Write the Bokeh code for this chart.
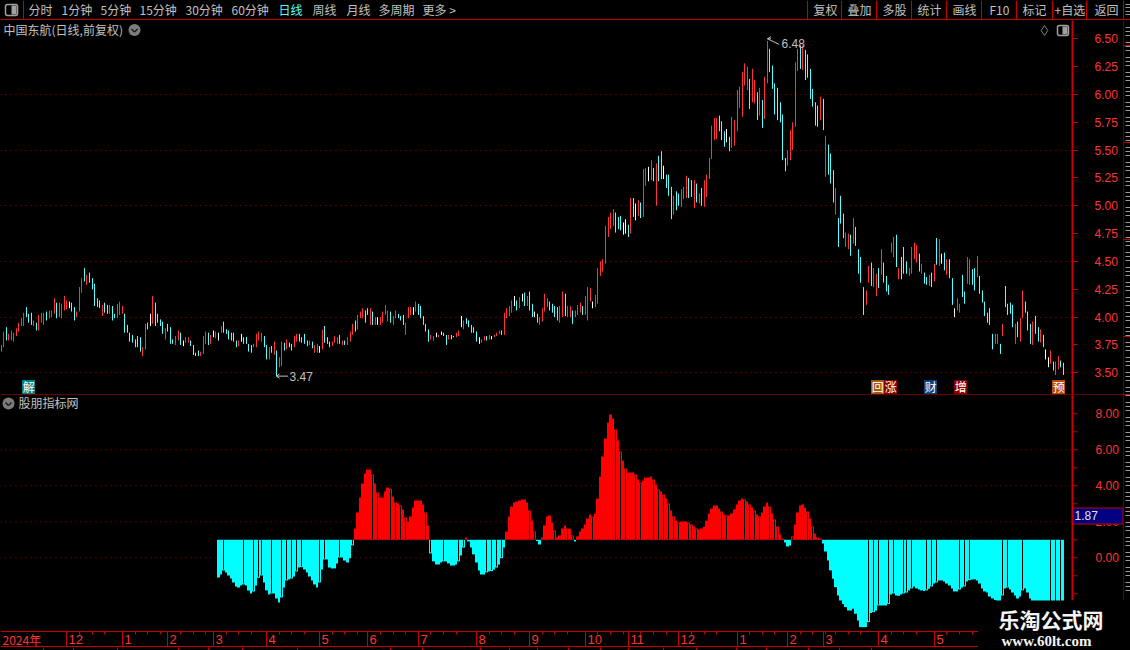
from math import floor
from bokeh.embed import file_html
from bokeh.resources import INLINE
from bokeh.plotting import figure
from bokeh.layouts import column, row
from bokeh.models import ColumnDataSource, FixedTicker, NumeralTickFormatter, Range1d
from bokeh.core.properties import value

# ---- data ----
highs = [3.75,3.87,3.91,3.85,3.88,3.86,3.90,3.95,3.99,4.04,
 4.09,4.03,4.04,3.97,3.95,4.02,4.04,4.04,4.05,4.06,
 4.06,4.17,4.13,4.13,4.12,4.19,4.15,4.14,4.13,4.09,
 4.05,4.27,4.35,4.44,4.38,4.40,4.35,4.30,4.17,4.15,
 4.11,4.13,4.11,4.11,4.10,4.03,4.12,4.14,4.10,4.03,
 3.93,3.86,3.84,3.80,3.83,3.82,3.73,3.94,3.95,4.03,
 4.19,4.13,4.03,3.98,3.96,3.90,3.94,3.91,3.80,3.83,
 3.88,3.86,3.79,3.82,3.82,3.79,3.75,3.68,3.70,3.69,
 3.83,3.87,3.86,3.84,3.88,3.87,3.86,3.92,3.96,3.89,
 3.88,3.86,3.86,3.79,3.79,3.85,3.82,3.82,3.76,3.75,
 3.76,3.85,3.87,3.86,3.83,3.75,3.73,3.74,3.78,3.70,
 3.64,3.78,3.77,3.80,3.77,3.76,3.83,3.85,3.85,3.82,
 3.85,3.79,3.79,3.78,3.75,3.76,3.74,
 3.89,3.92,3.82,3.78,3.78,3.83,3.82,3.84,3.79,3.79,
 3.82,3.87,3.94,3.97,4.02,4.05,4.08,4.06,4.08,4.08,
 4.05,4.00,4.00,4.00,4.05,4.11,4.06,4.05,4.01,4.06,
 4.03,4.01,4.02,3.95,4.09,4.09,4.09,4.14,4.12,4.10,
 4.01,3.94,3.89,3.84,3.83,3.86,3.84,3.87,3.86,3.84,
 3.84,3.84,3.83,3.86,3.88,4.01,3.97,3.99,3.97,3.93,
 3.91,3.87,3.82,3.80,3.83,3.83,3.84,3.83,3.84,3.86,
 3.88,3.88,4.04,4.08,4.10,4.15,4.19,4.15,4.18,4.21,
 4.22,4.19,4.23,4.12,4.05,4.03,4.00,4.08,4.21,4.17,
 4.14,4.12,4.10,4.09,4.10,4.23,4.21,4.10,4.10,4.06,
 4.06,4.11,4.13,4.10,4.19,4.27,4.26,4.14,4.20,4.44,
 4.50,4.52,4.82,4.90,4.94,4.97,4.94,4.90,4.91,4.85,
 4.88,4.83,5.07,5.07,5.02,5.05,
 5.03,5.33,5.34,5.35,5.41,5.34,5.38,5.45,5.49,5.36,
 5.28,5.28,5.17,5.09,5.13,5.11,5.15,5.17,5.27,5.25,
 5.23,5.23,5.20,5.11,5.16,5.23,5.28,5.43,5.72,5.79,
 5.79,5.81,5.76,5.67,5.69,5.62,5.80,5.77,6.04,6.07,
 6.20,6.28,6.25,6.14,6.23,6.13,6.02,6.06,5.95,6.16,
 6.48,6.41,6.26,6.10,6.06,5.93,5.82,5.43,5.50,5.68,
 5.75,6.29,6.41,6.44,6.44,6.40,6.36,6.23,6.05,5.93,
 5.90,5.98,5.96,5.63,5.55,5.47,5.32,5.16,4.89,5.09,
 4.93,4.76,4.75,4.74,4.89,4.81,4.61,4.54,4.27,4.24,
 4.46,4.49,4.44,4.39,4.44,
 4.61,4.49,4.37,4.29,4.67,4.72,4.74,4.44,4.54,4.63,
 4.50,4.44,4.63,4.67,4.65,4.57,4.48,4.40,4.36,4.38,
 4.40,4.48,4.71,4.70,4.57,4.58,4.52,4.52,4.35,4.08,
 4.17,4.12,4.38,4.23,4.54,4.52,4.43,4.44,4.55,4.37,
 4.24,4.14,4.04,4.08,3.85,3.85,3.85,3.76,3.94,4.28,
 4.12,4.13,4.11,3.94,3.96,3.99,4.24,4.14,4.05,3.94,
 3.96,4.01,3.91,3.89,3.84,3.71,3.64,3.70,3.60,3.60,
 3.65,3.61,3.59]
lows = [3.69,3.73,3.79,3.79,3.79,3.78,3.83,3.87,3.92,3.92,
 4.00,3.95,3.93,3.92,3.88,3.88,3.95,3.93,3.97,3.99,
 4.00,4.03,3.99,4.00,3.99,4.06,4.07,4.08,4.05,3.97,
 4.00,4.05,4.22,4.32,4.29,4.31,4.25,4.10,4.09,4.08,
 4.01,4.04,4.03,4.03,3.97,3.99,3.99,4.02,4.03,3.86,
 3.86,3.78,3.77,3.73,3.73,3.69,3.65,3.71,3.89,3.92,
 3.94,3.92,3.95,3.92,3.85,3.80,3.87,3.76,3.76,3.75,
 3.79,3.75,3.74,3.77,3.77,3.74,3.66,3.65,3.65,3.65,
 3.67,3.76,3.75,3.76,3.82,3.81,3.79,3.86,3.86,3.85,
 3.80,3.79,3.78,3.73,3.74,3.78,3.76,3.76,3.69,3.68,
 3.73,3.73,3.79,3.78,3.73,3.62,3.62,3.68,3.66,3.47,
 3.55,3.56,3.70,3.71,3.73,3.70,3.73,3.78,3.78,3.77,
 3.76,3.74,3.75,3.72,3.68,3.68,3.68,
 3.71,3.77,3.76,3.73,3.74,3.77,3.76,3.76,3.75,3.75,
 3.75,3.78,3.84,3.87,3.89,3.99,3.99,3.95,4.02,3.93,
 3.93,3.93,3.93,3.93,3.95,4.02,3.96,3.95,3.93,3.99,
 3.99,3.97,3.93,3.84,3.99,4.02,4.02,4.05,4.02,3.99,
 3.93,3.87,3.78,3.80,3.79,3.82,3.82,3.84,3.83,3.75,
 3.80,3.80,3.82,3.82,3.83,3.91,3.89,3.94,3.91,3.86,
 3.86,3.78,3.76,3.77,3.79,3.79,3.80,3.80,3.82,3.83,
 3.85,3.84,3.84,3.99,4.01,4.04,4.10,4.06,4.08,4.14,
 4.10,4.10,4.06,4.00,4.00,3.95,3.93,3.96,4.05,4.09,
 4.06,4.04,4.00,3.97,3.95,4.00,4.01,4.00,4.00,3.94,
 4.00,4.02,4.04,4.02,4.02,3.97,4.14,4.08,4.09,4.12,
 4.37,4.41,4.48,4.72,4.79,4.82,4.76,4.79,4.78,4.74,
 4.75,4.72,4.75,4.90,4.87,4.91,
 4.89,4.90,5.18,5.22,5.23,5.22,5.00,5.22,5.24,5.24,
 5.16,5.09,4.88,4.92,4.96,5.00,4.99,5.06,5.07,5.07,
 5.08,4.98,5.03,5.02,5.00,4.99,5.08,5.24,5.42,5.59,
 5.60,5.67,5.59,5.53,5.57,5.49,5.52,5.54,5.67,5.88,
 5.80,6.08,6.04,5.87,5.93,5.92,5.77,5.81,5.70,5.78,
 6.10,6.20,6.05,5.82,5.77,5.75,5.41,5.31,5.36,5.41,
 5.50,5.71,6.21,6.23,6.22,6.13,6.15,5.96,5.89,5.72,
 5.71,5.77,5.68,5.26,5.28,5.20,5.03,4.92,4.63,4.84,
 4.71,4.63,4.61,4.55,4.66,4.64,4.39,4.31,4.02,4.11,
 4.31,4.28,4.27,4.19,4.26,
 4.38,4.31,4.23,4.20,4.58,4.54,4.45,4.34,4.34,4.39,
 4.39,4.37,4.39,4.52,4.49,4.41,4.39,4.30,4.29,4.28,
 4.27,4.32,4.47,4.46,4.48,4.42,4.38,4.35,4.11,4.00,
 4.06,4.04,4.18,4.12,4.30,4.29,4.29,4.24,4.36,4.21,
 4.13,4.01,3.95,3.93,3.71,3.76,3.76,3.67,3.83,4.09,
 4.02,4.03,3.91,3.76,3.82,3.78,3.99,4.04,3.88,3.76,
 3.75,3.85,3.78,3.77,3.73,3.62,3.55,3.58,3.52,3.48,
 3.53,3.55,3.48]
kinds = ("rrcrrrrrrr" "cccrcrrrcr" "rrcrrrrwcc" "rrrcrccccc" "rccrccrrrc" "ccccccrrcw"
 "rccccrcccr" "rcwrrccccr" "rrcrwrwrcc" "ccccrwcccc" "rrrrccrcrc" "rrcrccrrcc" "ccrcrrw"
 "rcccrrrcrc" "rrrcrrrccr" "crwrrrrcrr" "cccrrrwrcc" "cccrrwrwcc" "rcwrrwrccc" "ccwrrcrwrr"
 "rcrrrrwcrw" "crccwcrrrr" "ccccrrcrrc" "rrrcrrrwrr" "rrrrrrcccw" "wcrcwr"
 "crrwrcrccw" "cccrccrrrc" "crcrcrrrrr" "rcccwcrrrr" "rrrcrrcrcr" "rcccccccrr" "rrrcrccccc"
 "crcrcccrcc" "crrcrccccr" "rcrrc"
 "rcccrrcrcc" "crrrrcrccr" "crcrwcrccw" "rrccrrccrc" "cccccrrcrc" "cccrcrrccc" "rccrcwwrcr" "rcc")

osc_values = [-1.09,-0.93,-0.70,-0.81,-0.98,-1.15,-1.37,-1.59,-1.65,-1.54,
 -1.48,-1.54,-1.81,-1.98,-1.87,-1.54,-1.11,-0.98,-1.37,-1.81,
 -2.04,-1.98,-1.98,-2.26,-2.48,-2.20,-1.65,-1.26,-1.20,-1.15,
 -1.04,-0.76,-0.54,-0.52,-0.65,-0.81,-1.04,-1.26,-1.48,-1.65,
 -1.37,-0.65,-0.09,-0.09,-0.54,-0.59,-0.59,-0.31,0.02,0.02,
 -0.15,-0.26,-0.02,0.69,
 1.63,2.52,3.35,4.13,4.69,4.91,4.91,4.63,4.13,3.63,
 3.35,3.35,3.69,3.91,3.83,3.41,3.07,3.02,2.91,2.69,
 2.24,2.02,2.30,2.80,3.19,3.19,3.19,2.96,2.52,1.80,
 0.24,-0.20,-0.37,-0.37,-0.26,-0.20,-0.20,-0.31,-0.43,-0.43,-0.37,-0.20,0.13,0.57,
 1.13,
 0.91,0.57,0.19,-0.26,-0.70,-0.93,-0.93,-0.81,-0.76,-0.74,-0.65,-0.54,-0.37,-0.02,0.57,
 1.46,2.30,2.85,3.07,3.13,3.19,3.24,3.24,3.07,
 2.63,2.07,1.46,0.94,0.74,1.13,1.80,2.30,2.35,1.96,
 1.52,1.13,1.24,1.63,1.80,1.63,1.61,1.24,0.91,1.19,
 1.46,1.63,1.85,2.19,2.41,2.28,2.46,3.30,4.52,5.63,
 6.63,7.52,7.96,7.74,7.13,6.52,5.91,5.41,4.96,4.74,
 4.74,4.74,4.63,4.35,4.19,4.30,4.46,4.46,4.52,4.35,
 4.07,3.80,3.69,3.52,3.30,3.02,2.63,2.30,2.07,1.96,
 2.02,2.02,2.02,1.96,1.85,1.74,1.63,1.57,
 1.63,1.74,2.07,2.46,2.74,2.91,2.91,2.74,2.57,2.41,
 2.35,2.35,2.46,2.69,2.96,3.19,3.30,3.24,3.13,2.96,
 2.80,2.63,2.41,2.30,2.52,2.85,3.07,2.85,2.46,2.13,
 1.74,1.30,1.07,0.85,0.63,0.69,1.19,1.85,2.52,2.91,
 2.96,2.80,2.57,2.19,1.74,1.35,1.13,1.07,0.80,0.35,
 -0.15,
 -0.70,-1.17,-1.63,-2.09,-2.37,-2.56,-2.74,-2.93,-2.93,
 -2.83,-3.11,-3.48,-3.85,-3.85,-3.85,-3.57,-3.07,-3.02,-2.93,
 -2.65,-2.65,-2.65,-2.65,-2.56,-2.04,-1.98,-2.09,-2.11,
 -2.04,-1.98,-1.93,-1.81,-1.70,-1.59,-1.70,-1.76,-1.81,-1.85,
 -1.81,-1.72,-1.59,-1.43,-1.37,-1.26,-1.26,-1.31,-1.43,-1.54,
 -1.70,-1.87,-1.87,-1.76,-1.65,-1.59,-1.31,-1.24,-1.20,-1.20,
 -1.26,-1.43,-1.70,-1.87,-1.93,-2.15,-2.26,-2.35,-2.40,-2.42,
 -2.09,-1.70,-1.65,-1.76,-1.93,-2.09,-2.26,-2.15,-1.81,-1.70,
 -1.93,-2.26,-2.45,-2.50,-2.55,-2.60,-2.60,-2.65,-2.65,-2.60,
 -2.55,-2.50,-2.50,-2.45,-2.40]
osc_base = 1.0
osc_last = "1.87"

price_ticks = [3.5,3.75,4.0,4.25,4.5,4.75,5.0,5.25,5.5,5.75,6.0,6.25,6.5]
price_grid = [3.5,4.0,4.5,5.0,5.5,6.0]
osc_ticks = [0,2,4,6,8]
osc_minor = [-2,-1,1,3,5,7]
osc_grid = [0,2,4,6]
month_starts = [26,48,66,84,105,126,145,165,188,209,231,248,268,291,311,325,347,369]
month_labels = ["12","1","2","3","4","5","6","7","8","9","10","11","12","1","2","3","4","5"]
year_label = "2024年"
low_i, low_val = 109, 3.47
high_i, high_val = 303, 6.48
stock_title = "中国东航(日线,前复权)"
osc_title = "股朋指标网"

tool_left = [("分时",28),("1分钟",61),("5分钟",100),("15分钟",139),("30分钟",185),("60分钟",231),
             ("日线",278),("周线",312),("月线",346),("多周期",378),("更多 >",422)]
tool_right = [("复权",813),("叠加",847),("多股",882),("统计",917),("画线",952),("F10",989),("标记",1022),("+自选",1054),("返回",1094)]
tool_seps = [23,807,841,876,911,946,981,1016,1052,1086,1123]
marks = [("解",22,"#008080"),("回",871,"#a05a10"),("涨",884,"#8b0000"),("财",924,"#0a3f80"),("增",954,"#8b0000"),("预",1052,"#b84a08")]

# ---- pixels of the frames ----
CN = "Noto Sans CJK SC"
SANS = "Liberation Sans"
RED = "#c80000"; TXT = "#c0c0c0"; AXT = "#ff3333"; GRID = "#a80000"
N = len(highs)
X0, FW = 1.0, 1072
S = (1063.3 - X0) / (N - 1)
x_to = lambda px: (px - X0) / S
snap = lambda i: x_to(floor(X0 + S*i))          # the canvas is already shifted by half a pixel
cx = [snap(i) for i in range(N)]
BG = {"background-color": "#000000"}

def base_fig(w, h, **kw):
    f = figure(width=w, height=h, output_backend="svg", toolbar_location=None, min_border=0,
               background_fill_color="#000000", border_fill_color="#000000", outline_line_color=None, **kw)
    f.styles = BG
    return f

def px_fig(w, h, x0, x1, y0, y1):
    f = base_fig(w, h, x_range=Range1d(x0, x1), y_range=Range1d(y1, y0), x_axis_location=None, y_axis_location=None)
    f.grid.visible = False
    return f

def grey_strokes(f, x0, x1, ys):
    # the neighbouring panel, cut by the window edge: unreadable strokes
    f.segment(x0=[x0]*len(ys), x1=[x1]*len(ys), y0=ys, y1=ys, line_color="#9a9a9a", line_width=1)

# ---- toolbar ----
top = px_fig(1130, 20, 0, 1130, 0, 20)
top.segment(x0=[0], x1=[1130], y0=[19], y1=[19], line_color=RED, line_width=1)
top.segment(x0=tool_seps, x1=tool_seps, y0=[0]*len(tool_seps), y1=[20]*len(tool_seps), line_color=RED, line_width=1)
names = [t for t,_ in tool_left] + [t for t,_ in tool_right]
xs = [p for _,p in tool_left] + [p for _,p in tool_right]
cols = ["#55ffff" if t=="日线" else TXT for t in names]
top.text(x=xs, y=[9]*len(xs), text=names, text_color=cols, text_font=value(CN), text_font_size="12px", text_baseline="middle", text_align="left")
top.quad(left=[5], right=[17], top=[4], bottom=[15], fill_color=None, line_color="#a0a0a0", line_width=1.5, border_radius=2)
top.quad(left=[11], right=[16], top=[5], bottom=[14], fill_color="#a0a0a0", line_color=None)
grey_strokes(top, 1125, 1130, [4, 7, 11, 14])

# ---- price panel ----
PT, PB = 20, 394
y_price = lambda py: 3.5 + (372.3 - py) / 111.33
pr = base_fig(1123, PB-PT, x_range=Range1d(x_to(0), x_to(FW)), y_range=Range1d(y_price(PB), y_price(PT)),
              x_axis_location=None, y_axis_location="right", min_border_right=51)
pr.extra_x_ranges["px"] = Range1d(0, FW)
pr.extra_y_ranges["px"] = Range1d(PB, PT)
colmap = {"r":"#ff3333","c":"#55ffff","w":"#ffffff"}
src = ColumnDataSource(dict(x=cx, hi=highs, lo=lows, c=[colmap[k] for k in kinds]))
pr.segment(x0="x", x1="x", y0="lo", y1="hi", line_color="c", line_width=1, source=src)
ya = pr.yaxis[0]
ya.ticker = FixedTicker(ticks=price_ticks)
ya.formatter = NumeralTickFormatter(format="0.00")
ya.major_label_text_color = AXT; ya.major_label_text_font = SANS; ya.major_label_text_font_size = "12px"
ya.major_tick_in = 0; ya.major_tick_out = 5; ya.minor_tick_out = 0; ya.minor_tick_in = 0
ya.major_tick_line_color = RED; ya.axis_line_color = RED; ya.axis_line_width = 2; ya.major_label_standoff = 17
pr.xgrid.visible = False
pr.ygrid.ticker = FixedTicker(ticks=price_grid)
pr.ygrid.grid_line_color = GRID; pr.ygrid.grid_line_dash = "1 4"; pr.ygrid.grid_line_width = 1

def px_text(f, x, y, t, color=TXT, size="12px", font=CN, style="normal"):
    f.text(x=[x], y=[y], text=[t], text_color=color, text_font=value(font), text_font_size=size, text_font_style=style,
           text_baseline="middle", text_align="left", x_range_name="px", y_range_name="px")

def chevron(f, x, y):
    f.scatter(x=[x], y=[y], size=12, marker="circle", fill_color="#7c7c7c", line_color=None, x_range_name="px", y_range_name="px")
    f.segment(x0=[x-3, x], x1=[x, x+3], y0=[y-1, y+2], y1=[y+2, y-1], line_color="#1a1a1a", line_width=1.5, x_range_name="px", y_range_name="px")

px_text(pr, 3, 28.5, stock_title)
chevron(pr, 134, 29.5)
pr.scatter(x=[1044], y=[30], size=10, marker="diamond", fill_color=None, line_color="#808080", x_range_name="px", y_range_name="px")
pr.quad(left=[1057], right=[1068], top=[25], bottom=[35], fill_color=None, line_color="#a0a0a0", line_width=1.5, border_radius=2, x_range_name="px", y_range_name="px")
pr.quad(left=[1062], right=[1067], top=[26], bottom=[34], fill_color="#a0a0a0", line_color=None, x_range_name="px", y_range_name="px")
for t, px, bg in marks:
    pr.quad(left=[px-.5], right=[px+12.5], top=[379.5], bottom=[393.5], fill_color=bg, line_color=None, x_range_name="px", y_range_name="px")
    pr.text(x=[px+0.2], y=[386], text=[t], text_color="#ffffff", text_font=value(CN), text_font_size="12px", text_baseline="middle", x_range_name="px", y_range_name="px")

# extreme markers
xl = snap(low_i); xh = snap(high_i)
pr.segment(x0=[xl, xl, xl], x1=[xl+4.6, xl+1.2, xl+1.2], y0=[low_val]*3, y1=[low_val, low_val+0.02, low_val-0.02], line_color=TXT)
pr.text(x=[xl], y=[low_val], text=[f"{low_val:.2f}"], x_offset=13, text_color=TXT, text_font=value(SANS), text_font_size="12px", text_baseline="middle")
pr.segment(x0=[xh]*3, x1=[xh+4.6, xh+1.4, xh+1.4], y0=[high_val+0.02]*3, y1=[high_val-0.03, high_val+0.02, high_val+0.04], line_color=TXT)
pr.text(x=[xh], y=[high_val-0.02], text=[f"{high_val:.2f}"], x_offset=14, text_color=TXT, text_font=value(SANS), text_font_size="12px", text_baseline="middle")

# ---- oscillator panel with its scale, time strip and watermark ----
OT, OE = 394, 650
AX = 1072
y_osc = lambda py: (557.3 - py) / 18.0
os_ = base_fig(1123, OE-OT, x_range=Range1d(x_to(0), x_to(1123)), y_range=Range1d(y_osc(OE), y_osc(OT)),
               x_axis_location=None, y_axis_location=None)
os_.grid.visible = False
os_.extra_x_ranges["px"] = Range1d(0, 1123)
os_.extra_y_ranges["px"] = Range1d(OE, OT)
PX = dict(x_range_name="px", y_range_name="px")
XPX = dict(x_range_name="px")
YPX = dict(y_range_name="px")

os_.segment(x0=[0]*len(osc_grid), x1=[AX]*len(osc_grid), y0=osc_grid, y1=osc_grid, line_color=GRID, line_dash="1 4", line_width=1, **XPX)

start = N - len(osc_values)
edge = lambda i: x_to(floor(X0 + S*i) - 1.5)
left = [edge(start+j) for j in range(len(osc_values))]
right = [edge(start+j+1) for j in range(len(osc_values))]
ccol = ["#ff0000" if v >= osc_base else "#00ffff" for v in osc_values]
os_.quad(left=left, right=right, bottom=[osc_base]*len(left), top=osc_values, fill_color=ccol, line_color=None)
# shrinking stick => hollow stick: a 1px dark slit shows when the stick is 3px wide
sl, sr, sb, st = [], [], [], []
for j, v in enumerate(osc_values):
    if j == 0: continue
    i = start + j
    lp = floor(X0 + S*i) - 1; rp = floor(X0 + S*(i+1)) - 1
    if abs(v-osc_base) < abs(osc_values[j-1]-osc_base) and rp-lp >= 3 and abs(v-osc_base) > 0.12:
        d = 1/18.0
        sgn = 1 if v > osc_base else -1
        sl.append(x_to(lp+0.5)); sr.append(x_to(lp+1.5))
        sb.append(osc_base + sgn*0.5*d); st.append(v - sgn*d)
os_.quad(left=sl, right=sr, bottom=sb, top=st, fill_color="#000000", line_color=None)

# right scale
all_t = osc_ticks + osc_minor
os_.segment(x0=[AX]*len(all_t), x1=[AX+5]*len(all_t), y0=all_t, y1=all_t, line_color=RED, **XPX)
os_.text(x=[AX+23]*len(osc_ticks), y=osc_ticks, text=[f"{t:.2f}" for t in osc_ticks], text_color=AXT, text_font=value(SANS),
         text_font_size="12px", text_baseline="middle", **XPX)
os_.segment(x0=[AX], x1=[AX], y0=[OT], y1=[600], line_color=RED, line_width=2, **PX)

# separator between the two panels
os_.segment(x0=[0], x1=[1123], y0=[394], y1=[394], line_color="#d80000", line_width=1, **PX)
px_text(os_, 18, 402, osc_title)
chevron(os_, 8, 403)

# time strip
ms = [snap(m) for m in month_starts]
os_.segment(x0=[x_to(0)]*2, x1=[x_to(978)]*2, y0=[631, 646], y1=[631, 646], line_color=RED, **YPX)
os_.segment(x0=ms, x1=ms, y0=[631]*len(ms), y1=[646]*len(ms), line_color=RED, **YPX)
weeks = [snap(m+k) for m in month_starts for k in (5, 10, 15)]
os_.segment(x0=weeks, x1=weeks, y0=[631]*len(weeks), y1=[634]*len(weeks), line_color=RED, **YPX)
os_.text(x=ms, y=[639]*len(ms), text=month_labels, x_offset=2, text_color=AXT, text_font=value(SANS), text_font_size="13px",
         text_baseline="middle", **YPX)
px_text(os_, 2, 638.5, year_label, color=AXT)
stub = [43,73,117,178,208,242,297,390,422,480,509,537,568,600,628,663,696,736,766,808,839,871]
os_.segment(x0=stub, x1=stub, y0=[647]*len(stub), y1=[650]*len(stub), line_color=RED, **PX)

# last value tag
os_.quad(left=[AX+0.5], right=[1122.5], top=[507.5], bottom=[523.5], fill_color="#000080", line_color=RED, line_width=1, **PX)
px_text(os_, AX+2, 515, osc_last, color="#e0e0e0", font=SANS)

# watermark over the lower right corner
os_.quad(left=[977.5], right=[1123], top=[600], bottom=[650], fill_color="#000000", line_color=None, **PX)
px_text(os_, 998, 618, "乐淘公式网", color="#f4f4f4", size="21px", style="bold")
px_text(os_, 1001, 640, "www.60lt.com", color="#f4f4f4", size="15px", font="Liberation Serif", style="bold")

# ---- right edge: the neighbouring panel, cut by the window ----
side = px_fig(7, 630, 0, 7, 20, 650)
ln = [45, 142, 239, 336, 394]
side.segment(x0=[0], x1=[0], y0=[20], y1=[600], line_color=RED)
side.segment(x0=[0]*len(ln), x1=[7]*len(ln), y0=ln, y1=ln, line_color=RED)
strokes = [y + d for y in range(26, 596, 15) for d in (1, 5, 9)]
side.segment(x0=[2]*len(strokes), x1=[7]*len(strokes), y0=strokes, y1=strokes, line_color="#9a9a9a", line_width=1)

# nested rows keep the frames of the two panels from being aligned to each other
page = column(top, row(column(row(pr), row(os_), spacing=0), side, spacing=0), spacing=0)
page.styles = {"position": "fixed", "left": "0px", "top": "0px", "background-color": "#000000"}
open("out.html", "w", encoding="utf-8").write(file_html(page, INLINE))
